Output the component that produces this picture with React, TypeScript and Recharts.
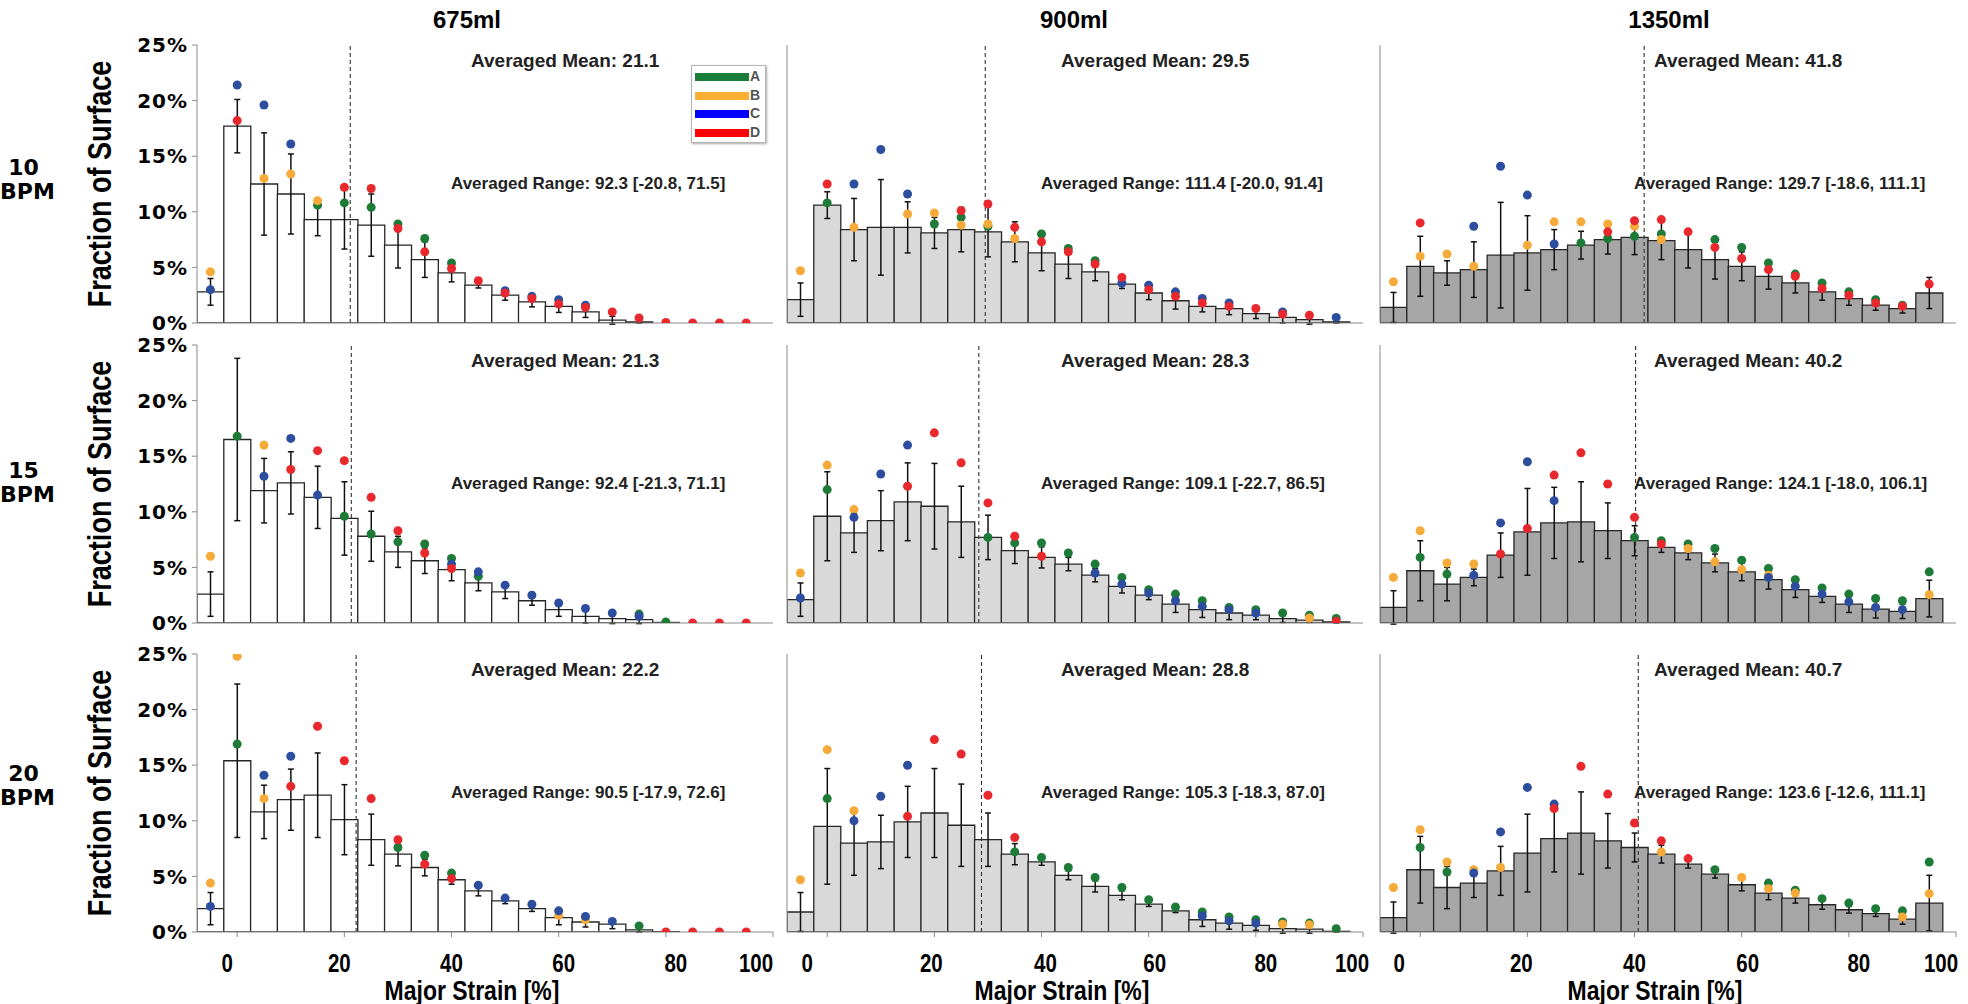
import React from "react";
import { ComposedChart, Bar, Scatter, XAxis, YAxis, ErrorBar, ReferenceLine } from "recharts";

const _ = null;

const bins = [-5, 0, 5, 10, 15, 20, 25, 30, 35, 40, 45, 50, 55, 60, 65, 70, 75, 80, 85, 90, 95];
const xTicks = [0, 20, 40, 60, 80, 100];
const yTicks = [0, 5, 10, 15, 20, 25];
const volumes = ["675ml", "900ml", "1350ml"];
const rates = ["10", "15", "20"];
const series = ["A", "B", "C", "D"];

// 10 BPM
const bar10_675 = [2.8, 17.7, 12.5, 11.6, 9.3, 9.3, 8.8, 7.0, 5.7, 4.5, 3.4, 2.5, 1.9, 1.5, 1.0, 0.25, 0.1, 0, 0, 0, 0];
const err10_675 = [1.2, 2.4, 4.6, 3.6, 1.45, 2.65, 2.8, 2.05, 1.6, 0.8, 0.25, 0.45, 0.45, 0.55, 0.5, 0.35, 0.1, 0, 0, 0, 0];
const a10_675 = [_, _, _, _, 10.6, 10.8, 10.4, 8.9, 7.6, 5.4, _, _, _, _, _, _, _, _, _, _, _];
const b10_675 = [4.6, _, 13.0, 13.4, 11.0, _, _, _, _, _, _, _, _, _, _, _, _, _, _, _, _];
const c10_675 = [3.0, 21.4, 19.6, 16.1, _, _, _, _, _, _, _, 2.9, 2.4, 2.1, 1.6, _, _, _, _, _, _];
const d10_675 = [_, 18.2, _, _, _, 12.2, 12.1, 8.5, 6.4, 4.9, 3.8, 2.7, 2.2, 1.7, 1.4, 1.0, 0.45, 0.05, 0, 0, 0];

const bar10_900 = [2.1, 10.6, 8.4, 8.6, 8.6, 8.1, 8.4, 8.2, 7.3, 6.3, 5.3, 4.6, 3.5, 2.7, 2.0, 1.5, 1.3, 0.85, 0.5, 0.3, 0.1];
const err10_900 = [1.5, 1.2, 2.8, 4.3, 2.3, 1.4, 2.0, 2.25, 1.8, 1.6, 1.3, 0.8, 0.4, 0.6, 0.75, 0.5, 0.55, 0.45, 0.5, 0.4, 0.1];
const a10_900 = [_, 10.8, _, _, _, 8.9, 9.5, 8.7, _, 8.0, 6.7, 5.6, _, _, _, _, _, _, _, _, _];
const b10_900 = [4.7, _, 8.6, _, 9.8, 9.9, 8.8, 8.9, 7.6, _, _, _, _, _, _, _, _, _, _, _, _];
const c10_900 = [_, _, 12.5, 15.6, 11.6, _, _, _, _, _, _, _, 3.6, 3.4, 2.8, 2.2, 1.8, _, 1.0, _, 0.5];
const d10_900 = [_, 12.5, _, _, _, _, 10.1, 10.7, 8.6, 7.3, 6.4, 5.3, 4.1, 3.0, 2.4, 1.8, 1.5, 1.3, 0.8, 0.7, _];

const bar10_1350 = [1.4, 5.1, 4.5, 4.8, 6.1, 6.3, 6.6, 7.0, 7.5, 7.7, 7.4, 6.6, 5.7, 5.1, 4.2, 3.6, 2.8, 2.2, 1.6, 1.3, 2.7];
const err10_1350 = [1.35, 2.7, 1.1, 2.5, 4.75, 3.35, 1.8, 1.25, 1.3, 1.55, 1.7, 1.65, 1.75, 1.3, 1.15, 0.9, 0.75, 0.6, 0.45, 0.4, 1.4];
const a10_1350 = [_, _, _, _, _, _, _, 7.2, 7.6, 7.8, 8.0, _, 7.5, 6.8, 5.4, 4.4, 3.6, 2.8, 2.1, 1.6, _];
const b10_1350 = [3.7, 6.0, 6.2, 5.1, _, 7.0, 9.1, 9.1, 8.9, 8.7, 7.5, _, _, _, _, _, _, _, _, _, _];
const c10_1350 = [_, _, _, 8.7, 14.1, 11.5, 7.1, _, _, _, _, _, _, _, _, _, _, _, _, _, _];
const d10_1350 = [_, 9.0, _, _, _, _, _, _, 8.2, 9.2, 9.3, 8.2, 6.8, 5.8, 4.8, 4.2, 3.1, 2.5, 1.8, 1.5, 3.5];

// 15 BPM
const bar15_675 = [2.6, 16.5, 11.9, 12.6, 11.3, 9.4, 7.8, 6.4, 5.6, 4.8, 3.6, 2.8, 2.0, 1.2, 0.6, 0.4, 0.3, 0.05, 0, 0, 0];
const err15_675 = [2.0, 7.3, 2.9, 2.8, 2.8, 3.3, 2.25, 1.4, 1.15, 1.0, 0.7, 0.6, 0.4, 0.6, 0.6, 0.45, 0.35, 0, 0, 0, 0];
const a15_675 = [_, 16.8, _, _, _, 9.6, 8.0, 7.3, 7.1, 5.8, 4.2, _, _, _, _, _, 0.8, 0.1, _, _, _];
const b15_675 = [6.0, _, 16.0, _, _, _, _, _, _, _, _, _, _, _, _, _, _, _, _, _, _];
const c15_675 = [_, _, 13.2, 16.6, 11.5, _, _, _, _, 5.3, 4.6, 3.4, 2.5, 1.8, 1.3, 0.9, 0.6, _, _, _, _];
const d15_675 = [_, _, _, 13.8, 15.5, 14.6, 11.3, 8.3, 6.3, 4.9, _, _, _, _, _, _, _, _, 0, 0, 0];

const bar15_900 = [2.1, 9.6, 8.1, 9.2, 10.9, 10.5, 9.1, 7.7, 6.5, 5.9, 5.3, 4.3, 3.3, 2.5, 1.7, 1.2, 0.9, 0.7, 0.4, 0.25, 0.1];
const err15_900 = [1.5, 4.0, 1.75, 2.7, 3.5, 3.85, 3.2, 2.0, 1.15, 0.95, 0.6, 0.6, 0.6, 0.4, 0.75, 0.7, 0.6, 0.4, 0.35, 0.2, 0.1];
const a15_900 = [_, 12.0, _, _, _, _, _, 7.7, 7.2, 7.2, 6.3, 5.3, 4.1, 3.0, 2.6, 2.0, 1.4, 1.2, 0.9, 0.7, 0.4];
const b15_900 = [4.5, 14.2, 10.2, _, _, _, _, _, _, _, _, _, _, _, _, _, _, _, _, 0.45, _];
const c15_900 = [2.25, _, 9.5, 13.4, 16.0, _, _, _, _, _, _, 4.5, 3.5, 2.7, 2.0, 1.5, 1.2, 0.9, _, _, _];
const d15_900 = [_, _, _, _, 12.3, 17.1, 14.4, 10.8, 7.8, 6.0, _, _, _, _, _, _, _, _, _, _, 0.15];

const bar15_1350 = [1.4, 4.7, 3.5, 4.1, 6.1, 8.2, 9.0, 9.1, 8.3, 7.4, 6.8, 6.3, 5.4, 4.6, 3.9, 3.0, 2.4, 1.7, 1.25, 1.05, 2.2];
const err15_1350 = [1.5, 2.7, 1.5, 0.75, 2.0, 3.9, 3.2, 3.6, 2.5, 1.35, 0.45, 0.6, 0.8, 0.8, 0.85, 0.7, 0.55, 0.75, 0.8, 0.65, 1.65];
const a15_1350 = [_, 5.9, 4.4, _, _, _, _, _, _, 7.7, 7.4, 7.1, 6.7, 5.65, 4.9, 3.9, 3.15, 2.6, 2.2, 2.0, 4.6];
const b15_1350 = [4.1, 8.3, 5.4, 5.3, _, _, _, _, _, _, _, 6.7, 5.5, 4.8, 4.3, _, _, _, _, _, 2.55];
const c15_1350 = [_, _, _, 4.3, 9.0, 14.5, 11.0, _, _, _, _, _, _, _, 4.1, 3.3, 2.6, 1.9, 1.4, 1.2, _];
const d15_1350 = [_, _, _, _, 6.2, 8.5, 13.3, 15.3, 12.5, 9.5, 7.1, _, _, _, _, _, _, _, _, _, _];

// 20 BPM
const bar20_675 = [2.1, 15.4, 10.8, 11.9, 12.3, 10.1, 8.3, 7.0, 5.8, 4.7, 3.7, 2.8, 2.1, 1.3, 0.9, 0.7, 0.2, 0.03, 0, 0, 0];
const err20_675 = [1.45, 6.9, 2.4, 2.75, 3.8, 3.15, 2.3, 1.05, 0.75, 0.4, 0.45, 0.25, 0.25, 0.65, 0.45, 0.4, 0.2, 0, 0, 0, 0];
const a20_675 = [_, 16.9, _, _, _, _, _, 7.6, 6.9, 5.3, _, _, _, _, _, _, 0.55, _, _, _, _];
const b20_675 = [4.4, 24.8, 12.0, _, _, _, _, _, _, _, _, _, _, 1.5, 1.1, _, _, _, _, _, _];
const c20_675 = [2.3, _, 14.1, 15.8, _, _, _, _, _, _, 4.2, 3.05, 2.5, 1.9, 1.4, 0.95, _, _, _, _, _];
const d20_675 = [_, _, _, 13.1, 18.5, 15.4, 12.0, 8.3, 6.1, 4.8, _, _, _, _, _, _, _, 0, 0, 0, 0];

const bar20_900 = [1.8, 9.5, 8.0, 8.1, 9.9, 10.7, 9.6, 8.3, 7.0, 6.3, 5.1, 4.1, 3.3, 2.5, 1.9, 1.1, 0.8, 0.6, 0.3, 0.25, 0.06];
const err20_900 = [1.75, 5.2, 2.9, 2.4, 3.2, 4.0, 3.7, 2.4, 0.95, 0.3, 0.4, 0.5, 0.4, 0.2, 0.15, 0.6, 0.55, 0.45, 0.4, 0.35, 0.06];
const a20_900 = [_, 12.0, _, _, _, _, _, _, 7.2, 6.7, 5.8, 4.9, 4.0, 2.9, 2.25, 1.8, 1.35, 1.1, 0.9, 0.8, 0.3];
const b20_900 = [4.7, 16.4, 10.9, _, _, _, _, _, _, _, _, _, _, _, _, _, _, _, 0.7, 0.65, _];
const c20_900 = [_, _, 10.0, 12.2, 15.0, _, _, _, _, _, _, _, _, _, _, 1.45, 1.0, 0.8, _, _, _];
const d20_900 = [_, _, _, _, 10.4, 17.3, 16.0, 12.3, 8.5, _, _, _, _, _, _, _, _, _, _, _, _];

const bar20_1350 = [1.3, 5.6, 4.0, 4.4, 5.5, 7.1, 8.4, 8.9, 8.2, 7.6, 7.0, 6.1, 5.2, 4.25, 3.5, 3.05, 2.45, 2.0, 1.65, 1.15, 2.6];
const err20_1350 = [1.4, 3.0, 1.9, 1.3, 2.2, 3.5, 3.0, 3.7, 2.45, 1.3, 0.8, 0.35, 0.35, 0.55, 0.6, 0.45, 0.4, 0.3, 0.25, 0.45, 2.5];
const a20_1350 = [_, 7.6, 5.4, _, _, _, _, _, _, _, _, _, 5.6, _, 4.4, 3.75, 3.0, 2.6, 2.1, 1.9, 6.3];
const b20_1350 = [4.0, 9.2, 6.3, 5.6, 5.8, _, _, _, _, _, 7.2, _, _, 4.9, 3.9, 3.5, _, _, _, 1.35, 3.45];
const c20_1350 = [_, _, _, 5.3, 9.0, 13.0, 11.5, _, _, _, _, _, _, _, _, _, _, _, _, _, _];
const d20_1350 = [_, _, _, _, _, _, 11.1, 14.9, 12.4, 9.8, 8.2, 6.6, _, _, _, _, _, _, _, _, _];

const means = [
  [21.1, 29.5, 41.8],
  [21.3, 28.3, 40.2],
  [22.2, 28.8, 40.7],
];
const ranges = [
  ["92.3 [-20.8, 71.5]", "111.4 [-20.0, 91.4]", "129.7 [-18.6, 111.1]"],
  ["92.4 [-21.3, 71.1]", "109.1 [-22.7, 86.5]", "124.1 [-18.0, 106.1]"],
  ["90.5 [-17.9, 72.6]", "105.3 [-18.3, 87.0]", "123.6 [-12.6, 111.1]"],
];

const panels = [
  [
    { bars: bar10_675, errs: err10_675, dots: [a10_675, b10_675, c10_675, d10_675] },
    { bars: bar10_900, errs: err10_900, dots: [a10_900, b10_900, c10_900, d10_900] },
    { bars: bar10_1350, errs: err10_1350, dots: [a10_1350, b10_1350, c10_1350, d10_1350] },
  ],
  [
    { bars: bar15_675, errs: err15_675, dots: [a15_675, b15_675, c15_675, d15_675] },
    { bars: bar15_900, errs: err15_900, dots: [a15_900, b15_900, c15_900, d15_900] },
    { bars: bar15_1350, errs: err15_1350, dots: [a15_1350, b15_1350, c15_1350, d15_1350] },
  ],
  [
    { bars: bar20_675, errs: err20_675, dots: [a20_675, b20_675, c20_675, d20_675] },
    { bars: bar20_900, errs: err20_900, dots: [a20_900, b20_900, c20_900, d20_900] },
    { bars: bar20_1350, errs: err20_1350, dots: [a20_1350, b20_1350, c20_1350, d20_1350] },
  ],
];

const dotColors = ["#1d7b37", "#f5aa3a", "#2d4d9f", "#e8282d"];
const legendColors = ["#1a7d3a", "#fbb034", "#0000ff", "#ff0000"];
const barFills = ["#ffffff", "#d9d9d9", "#a6a6a6"];
const FRAME = "#8a8a8a";
const FW = 576;
const FH = 278;
const frameLeft = [197, 787, 1380];
const frameTop = [45, 345, 654];
const rowLabelY = [180, 483, 786];
const titleX = [467, 1074, 1669];
// the tick-label strip under each column sits slightly wider than the ticks
const labelShift = [
  [-10, -5, 0, 5, 10, -17],
  [-20, -3, 4, 6, 10, -11],
  [-21, -6, 0, 6, 10, -15],
];
const SANS = '"Liberation Sans", Arial, sans-serif';

function XTick(props: any) {
  const { x, y, payload, col } = props;
  const idx = xTicks.indexOf(payload.value);
  const shift = idx >= 0 ? labelShift[col][idx] : 0;
  return (
    <g transform={`translate(${x + shift},${y})`}>
      <text transform="scale(0.82,1)" textAnchor="middle" dy={33} fontSize={25} fontWeight={700} fontFamily={SANS} fill="#000">
        {payload.value}
      </text>
    </g>
  );
}

function Legend4() {
  return (
    <div
      style={{
        position: "absolute",
        left: 494,
        top: 20,
        width: 75,
        height: 78,
        border: "1.5px solid #b5b5b5",
        boxShadow: "1px 1px 2px #aaa",
        background: "#fff",
        boxSizing: "border-box",
      }}
    >
      {series.map((s, k) => (
        <div key={s} style={{ position: "absolute", left: 3, top: 6 + k * 18.5, height: 10, width: 70 }}>
          <div style={{ position: "absolute", left: 0, top: 1, width: 54, height: 8, background: legendColors[k] }} />
          <div style={{ position: "absolute", left: 55, top: -4, fontSize: 14, fontWeight: 700, color: "#555", fontFamily: SANS }}>{s}</div>
        </div>
      ))}
    </div>
  );
}

function Panel({ row, col }: { row: number; col: number }) {
  const p = panels[row][col];
  const yW = col === 0 ? 80 : 6;
  const xH = row === 2 ? 48 : 6;
  const data = bins.map((x, i) => ({ x, bar: p.bars[i], err: p.errs[i] }));
  return (
    <div style={{ position: "absolute", left: frameLeft[col] - yW, top: frameTop[row] - 1 }}>
      <ComposedChart
        width={yW + FW + 1}
        height={FH + 1 + xH}
        data={data}
        margin={{ top: 1, right: 1, bottom: 0, left: 0 }}
        barCategoryGap={0}
        barGap={0}
      >
        <XAxis
          dataKey="x"
          type="number"
          domain={[-7.5, 100]}
          ticks={xTicks}
          interval={0}
          allowDataOverflow
          height={xH}
          tickSize={5}
          tickLine={{ stroke: FRAME }}
          axisLine={{ stroke: FRAME }}
          tick={row === 2 ? <XTick col={col} /> : false}
        />
        <XAxis xAxisId="top" orientation="top" type="number" domain={[-7.5, 100]} height={0} tick={false} tickLine={false} axisLine={{ stroke: FRAME }} />
        <YAxis
          type="number"
          domain={[0, 25]}
          ticks={yTicks}
          interval={0}
          allowDataOverflow
          width={yW}
          tickSize={5}
          tickMargin={4}
          tickLine={{ stroke: FRAME }}
          axisLine={{ stroke: FRAME }}
          tick={col === 0 ? { fill: "#000", fontSize: 20, fontWeight: 700, fontFamily: "DejaVu Sans", letterSpacing: 1 } : false}
          tickFormatter={(v: number) => `${v}%`}
        />
        <YAxis yAxisId="right" orientation="right" type="number" domain={[0, 25]} width={0} tick={false} tickLine={false} axisLine={{ stroke: FRAME }} />
        <Bar dataKey="bar" fill={barFills[col]} stroke="#262626" strokeWidth={1.3} isAnimationActive={false}>
          <ErrorBar dataKey="err" width={3} stroke="#111" strokeWidth={1.5} isAnimationActive={false} />
        </Bar>
        <ReferenceLine x={means[row][col]} stroke="#333" strokeDasharray="4 3" strokeWidth={1.1} />
        {p.dots.map((vals, k) => (
          <Scatter
            key={series[k]}
            name={series[k]}
            data={bins.map((x, i) => ({ x, y: vals[i] })).filter((d) => d.y !== null)}
            dataKey="y"
            isAnimationActive={false}
            shape={(sp: any) => <circle cx={sp.cx} cy={sp.cy} r={4.5} fill={dotColors[k]} />}
          />
        ))}
      </ComposedChart>
      <div
        style={{
          position: "absolute",
          left: yW + 274,
          top: 1 + 16 - 11,
          lineHeight: "22px",
          fontSize: 19,
          fontWeight: 700,
          color: "#222",
          whiteSpace: "nowrap",
          fontFamily: SANS,
        }}
      >
        Averaged Mean: {means[row][col].toFixed(1)}
      </div>
      <div
        style={{
          position: "absolute",
          left: yW + 254,
          top: 1 + 139 - 11,
          lineHeight: "22px",
          fontSize: 17,
          fontWeight: 700,
          color: "#222",
          whiteSpace: "nowrap",
          fontFamily: SANS,
        }}
      >
        Averaged Range: {ranges[row][col]}
      </div>
      {row === 0 && col === 0 && (
        <div style={{ position: "absolute", left: yW, top: 1 }}>
          <Legend4 />
        </div>
      )}
    </div>
  );
}

export default function App() {
  return (
    <div style={{ position: "absolute", left: 0, top: 0, width: 1968, height: 1004, background: "#fff", fontFamily: SANS }}>
      <style>{`.recharts-surface, .recharts-wrapper { overflow: visible !important; }`}</style>
      {volumes.map((v, c) => (
        <div
          key={v}
          style={{ position: "absolute", left: titleX[c] - 100, width: 200, top: 6, lineHeight: "28px", textAlign: "center", fontSize: 24, fontWeight: 700 }}
        >
          {v}
        </div>
      ))}
      {rates.map((r, i) => {
        const cy = frameTop[i] + FH / 2;
        return (
          <React.Fragment key={r}>
            <div
              style={{
                position: "absolute",
                left: 0,
                width: 47,
                top: rowLabelY[i] - 24,
                textAlign: "center",
                fontSize: 22,
                lineHeight: "24px",
                fontWeight: 700,
                whiteSpace: "nowrap",
                fontFamily: '"DejaVu Sans", sans-serif',
              }}
            >
              {r}
              <br />
              BPM
            </div>
            <div
              style={{
                position: "absolute",
                left: 100,
                top: cy,
                transform: "translate(-50%, -50%) rotate(-90deg) scaleX(0.82)",
                whiteSpace: "nowrap",
                fontSize: 33,
                fontWeight: 700,
                lineHeight: "36px",
              }}
            >
              Fraction of Surface
            </div>
          </React.Fragment>
        );
      })}
      {volumes.map((v, c) => (
        <div
          key={"xl" + v}
          style={{
            position: "absolute",
            left: frameLeft[c] + FW / 2 - 13,
            top: 991,
            transform: "translate(-50%, -50%) scaleX(0.82)",
            whiteSpace: "nowrap",
            fontSize: 28,
            fontWeight: 700,
            lineHeight: "30px",
          }}
        >
          Major Strain [%]
        </div>
      ))}
      {[0, 1, 2].map((r) => [0, 1, 2].map((c) => <Panel key={`${r}-${c}`} row={r} col={c} />))}
    </div>
  );
}
